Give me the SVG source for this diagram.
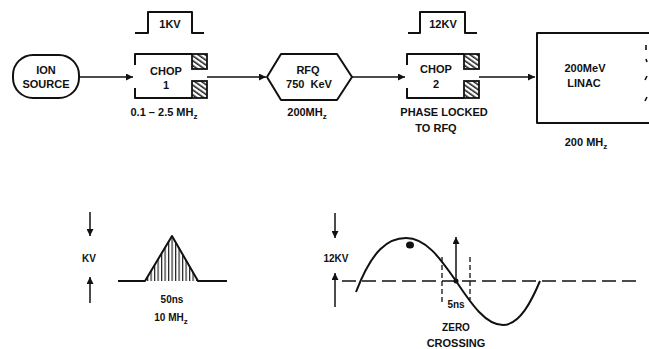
<svg xmlns="http://www.w3.org/2000/svg" width="649" height="349" viewBox="0 0 649 349">
<style>
text{font-family:"Liberation Sans",Arial,sans-serif;font-weight:bold;font-size:11px;fill:#111;text-anchor:middle}
.sm{font-size:10px}
.ln{fill:none;stroke:#111;stroke-width:2;stroke-linejoin:round}
.th{fill:none;stroke:#111;stroke-width:1.5}
.dash{fill:none;stroke:#111;stroke-width:1.6;stroke-dasharray:14 6}
.vd{fill:none;stroke:#111;stroke-width:1.3;stroke-dasharray:5 3}
.hat{fill:url(#diag);stroke:#111;stroke-width:1.8}
</style>
<defs>
<marker id="ah" viewBox="0 0 10 10" refX="10" refY="5" markerWidth="9" markerHeight="7" markerUnits="userSpaceOnUse" orient="auto">
<path d="M0,0 L10,5 L0,10 Z" fill="#111"/>
</marker>
<pattern id="diag" patternUnits="userSpaceOnUse" width="4" height="4" patternTransform="rotate(-55)">
<rect width="4" height="4" fill="#fff"/>
<rect width="1.6" height="4" fill="#222"/>
</pattern>
<pattern id="vert" patternUnits="userSpaceOnUse" width="3.5" height="10">
<rect width="3.5" height="10" fill="#fff"/>
<rect width="1.2" height="10" fill="#222"/>
</pattern>
</defs>

<g id="connectors">
<line class="th" x1="79" y1="77" x2="133" y2="77" marker-end="url(#ah)"/>
<line class="th" x1="207" y1="77" x2="266" y2="77" marker-end="url(#ah)"/>
<line class="th" x1="352" y1="77" x2="405" y2="77" marker-end="url(#ah)"/>
<line class="th" x1="479" y1="77" x2="535" y2="77" marker-end="url(#ah)"/>
</g>

<g id="ion-source">
<rect class="ln" x="13" y="55" width="66" height="43" rx="20" ry="20"/>
<text x="46" y="74">ION</text>
<text x="46" y="88">SOURCE</text>
</g>

<g id="pulse-1kv">
<path class="ln" d="M135,33 H148 V12 H192 V33 H204"/>
<text x="170" y="28">1KV</text>
</g>

<g id="chop-1">
<path class="ln" d="M135,65 V54 H192 M135,88 V98 H192"/>
<rect class="hat" x="192" y="54" width="15" height="15"/>
<rect class="hat" x="192" y="81" width="15" height="17"/>
<text x="166" y="75">CHOP</text>
<text x="166" y="89">1</text>
<text x="164" y="116">0.1 – 2.5 MH<tspan dy="3" font-size="8">z</tspan></text>
</g>

<g id="rfq">
<polygon class="ln" points="267,77 281,54 337,54 352,77 337,100 281,100"/>
<text x="308" y="74">RFQ</text>
<text x="309" y="88" xml:space="preserve">750  KeV</text>
<text x="307" y="116">200MH<tspan dy="3" font-size="8">z</tspan></text>
</g>

<g id="pulse-12kv">
<path class="ln" d="M408,33 H420 V12 H465 V33 H477"/>
<text x="443" y="28">12KV</text>
</g>

<g id="chop-2">
<path class="ln" d="M407,65 V54 H464 M407,88 V98 H464"/>
<rect class="hat" x="464" y="54" width="15" height="15"/>
<rect class="hat" x="464" y="81" width="15" height="17"/>
<text x="436" y="73">CHOP</text>
<text x="436" y="88">2</text>
<text x="444" y="116">PHASE LOCKED</text>
<text x="436" y="132">TO RFQ</text>
</g>

<g id="linac">
<path class="ln" d="M652,33 H537 V123 H652"/>
<text x="585" y="72">200MeV</text>
<text x="584" y="87">LINAC</text>
<text x="586" y="146">200 MH<tspan dy="3" font-size="8">z</tspan></text>
<path fill="none" stroke="#111" stroke-width="1.6" d="M646,45 v5 M646,59 l1,3 M645,80 l2,-4 M645,101 l2,-4"/>
</g>

<g id="chop1-waveform">
<line class="th" x1="90" y1="212" x2="90" y2="236" marker-end="url(#ah)"/>
<text class="sm" x="89" y="262">KV</text>
<line class="th" x1="90" y1="303" x2="90" y2="277" marker-end="url(#ah)"/>
<polygon points="145,281 172,236 198,281" fill="url(#vert)"/>
<path class="ln" d="M118,281 H145 L172,236 L198,281 H227"/>
<text class="sm" x="172" y="303">50ns</text>
<text class="sm" x="171" y="321">10 MH<tspan dy="3" font-size="8">z</tspan></text>
</g>

<g id="chop2-waveform">
<line class="th" x1="335" y1="213" x2="335" y2="238" marker-end="url(#ah)"/>
<text class="sm" x="336" y="262">12KV</text>
<line class="th" x1="335" y1="307" x2="335" y2="273" marker-end="url(#ah)"/>
<line class="dash" x1="342" y1="281" x2="636" y2="281"/>
<path class="ln" d="M356,292 C372,250 388,238 406,238 C426,238 440,258 456,281 C472,305 486,325 503,325 C520,325 532,300 540,281"/>
<ellipse cx="410" cy="245" rx="4" ry="3.5" fill="#111"/>
<line class="vd" x1="442" y1="257" x2="442" y2="302"/>
<line class="vd" x1="470" y1="257" x2="470" y2="300"/>
<line class="th" x1="456" y1="281" x2="456" y2="237" marker-end="url(#ah)"/>
<circle cx="456" cy="281" r="2.5" fill="#111"/>
<text class="sm" x="456" y="308">5ns</text>
<text class="sm" x="456" y="331">ZERO</text>
<text x="456" y="347">CROSSING</text>
</g>
</svg>
